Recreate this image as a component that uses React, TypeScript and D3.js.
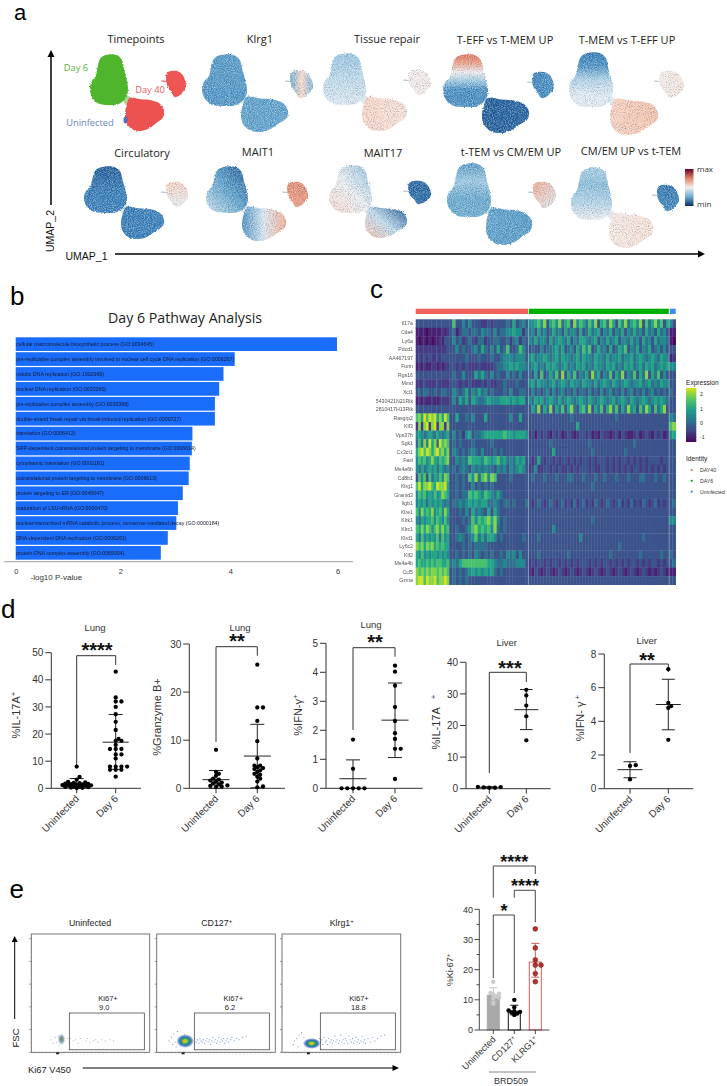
import React from 'react';
import * as d3 from 'd3';

const SANS = '"Liberation Sans", Arial, sans-serif';
const SOFT = '"Open Sans", "Noto Sans", sans-serif';

// ---------- panel a data: expression (-1..1) along each lobe
const umapTitles = ['Timepoints', 'Klrg1', 'Tissue repair', 'T-EFF vs T-MEM UP', 'T-MEM vs T-EFF UP', 'Circulatory', 'MAIT1', 'MAIT17', 't-TEM vs CM/EM UP', 'CM/EM UP vs t-TEM'];
const upperExpr = [[0], [-0.58, -0.6], [-0.38, -0.25, -0.12], [0.55, 0.42, 0.02, -0.35, -0.62, -0.64, -0.62], [-0.72, -0.62, -0.3, -0.12, -0.1], [-0.85, -0.72, -0.7], [-0.85, -0.55, -0.2], [-0.42, -0.05, 0.18], [-0.58, -0.36, -0.52, -0.5], [-0.33, -0.42, -0.3, -0.02]];
const lowerExpr = [[0], [-0.55, -0.55], [0.2, 0.12], [-0.85, -0.82], [0.22, 0.28], [-0.72, -0.7], [-0.62, -0.12, 0.38], [-0.85, -0.25, 0.28], [-0.55, -0.58], [0.08, 0.14]];
const satExpr = [[0], [-0.5, 0.18, -0.45], [0.02, 0.06], [-0.68, -0.62], [0.05, 0.1], [0.22, -0.05], [0.48, 0.42], [-0.82, -0.78], [0.38, -0.1], [-0.75, -0.65]];
// gradient axis of each lobe, as [x1, y1, x2, y2] in the lobe's box
const upperDir = [[0, 0, 0, 1], [0, 0, 0, 1], [0, 0, 0, 1], [0, 0, 0, 1], [0, 0, 0, 1], [0, 0, 0, 1], [1, 0, 0, 1], [1, 0, 0, 1], [0, 0, 0, 1], [0, 0, 0, 1]];
const lowerDir = [[0, 0, 1, 0], [0, 0, 1, 0], [0, 0, 1, 0], [0, 0, 1, 0], [0, 0, 1, 0], [0, 0, 1, 0], [0, 0, 1, 0], [1, 0.1, 0, 1], [0, 0, 1, 0], [0, 0, 1, 0]];
const satDir = [[0, 0, 1, 0], [0, 0, 1, 0], [0, 0, 1, 0], [0, 0, 1, 0], [0, 0, 1, 0], [0, 0, 0, 1], [0, 0, 0, 1], [0, 0, 0, 1], [0, 0, 1, 1], [0, 0, 0, 1]];

// ---------- panel b data
const pathways = [
  'cellular macromolecule biosynthetic process (GO:0034645)',
  'pre-replicative complex assembly involved in nuclear cell cycle DNA replication (GO:0006267)',
  'mitotic DNA replication (GO:1902969)',
  'nuclear DNA replication (GO:0033260)',
  'pre-replicative complex assembly (GO:0036388)',
  'double-strand break repair via break-induced replication (GO:0000727)',
  'translation (GO:0006412)',
  'SRP-dependent cotranslational protein targeting to membrane (GO:0006614)',
  'cytoplasmic translation (GO:0002181)',
  'cotranslational protein targeting to membrane (GO:0006613)',
  'protein targeting to ER (GO:0045047)',
  'maturation of LSU-rRNA (GO:0000470)',
  'nuclear-transcribed mRNA catabolic process, nonsense-mediated decay (GO:0000184)',
  'DNA-dependent DNA replication (GO:0006261)',
  'protein-DNA complex assembly (GO:0065004)',
];
const pathwayP = [6.0, 4.09, 3.88, 3.8, 3.72, 3.72, 3.3, 3.29, 3.25, 3.23, 3.12, 3.03, 3.0, 2.84, 2.71];

// ---------- panel c data: level 0-9 for each cell, groups split by a space
const genes = ['Il17a', 'Ctla4', 'Ly6a', 'Pdcd1', 'AA467197', 'Furin', 'Rgs16', 'Mmd', 'Xcl1', '5430421N21Rik', '2810417H13Rik', 'Rasgrp2', 'Klf3', 'Vps37b', 'Sgk1', 'Cx3cr1', 'Fasl', 'Ms4a6b', 'Cd8b1', 'Klrg1', 'Gramd3', 'Itgb1', 'Klre1', 'Klrk1', 'Klrc1', 'Klrd1', 'Ly6c2', 'Klf2', 'Ms4a4b', 'Ccl5', 'Gzma'];
const heatRows = [
  '3333333333333 3733535333223233334363453 55675836758467385764758367486375846758374685736 53',
  '1111011111212 3413443443544353445565524 45364534645364553634645635463546354645364536453 11',
  '1011010112133 3534234324423344334245243 54645536456546354665456354645635546453645364554 10',
  '2222222222223 3353433453643536347334753 34335344564634536475734645363465735463546345353 33',
  '2323232232333 3333343334333433455545553 56455654564655456465546554645564556456545654655 12',
  '1212112212122 3323232223222234455656554 45645465654564546564546554656454656456465645656 55',
  '3333333333333 3433533364643534335343533 43637346473836473546384635473648354736483647353 33',
  '2223222232222 3332323222323223343334333 56465545645654655465546456546545654556456454655 33',
  '3434433433443 3543463546453433343533443 35343453534534353443534353453435345343534534343 43',
  '1212112112222 3536463654456555666565663 54656456546456545654654565456456546545654565654 33',
  '3333333333333 3333333333333333333333333 36483648364736843674836473684736485637486374683 33',
  '7869798968697 3363343533363333333533633 33333333333333433333333333333433333333333333333 54',
  '2828928928828 3333333333333333333333333 33333333333333336333333333333333333333333333333 78',
  '5654565465456 3534256344566666676656665 23132321323123212332312132212313211231232132312 56',
  '4748596849787 3434333433333433333333333 33333334333333333333433333333333333433333333333 33',
  '6897986897868 3543434543533343433333333 33333333633333333333343333333333433333333333333 33',
  '5767568657678 3354547666576567564546563 32363233232332323233232333232323323232323333233 33',
  '5464565646545 3434543545454435453545653 23522332323223232333232233232323232332323232323 33',
  '3757374657587 3343437584785873333433333 34333433343334433343334334333433343334433343343 33',
  '7968897698896 3343433534343433333333333 33333333333333333333343333333333333333333333333 33',
  '5767565756876 3343447676576546433333333 33333333333333333333333333333333333333333333333 33',
  '5656465656545 3445456565664454344343334 32343234323423242342324323432342324232432342323 34',
  '7586768567586 3334353645436364333333333 33333333333333333333333333333333333333333333333 33',
  '5465667576575 3333434757678685343333333 33333333333333333333343333333333333333333333333 55',
  '7686875786867 3343345786767584343333333 33333333533333333333333333333333333333333333333 33',
  '6475656574756 3345434574646653433333343 33343333333333333533333333333333333333433333333 33',
  '8786878676766 3333434344443333333333333 33333333333333333333333333333343333333333333333 33',
  '6575656656565 3343434354343433435453533 33343333333334333333333333343333333334333333433 43',
  '6766767677667 4546777777776654454445553 23233232332323232333232323323232323323232332323 34',
  '8787878878787 3434345656565643433333333 21321232123212321232123212321232123212321212321 11',
  '8997988978898 3434343333333333333333333 33333333333333333333333333333333333333333333333 33',
];
const identities = ['DAY40', 'DAY6', 'Uninfected'];
const expressionTicks = [2, 1, 0, -1];

// ---------- panel d data
const il17Uninf = [8, 4.2, 3.2, 2.4, 2.2, 2, 1.9, 1.7, 1.6, 1.5, 1.4, 1.3, 1.2, 1.1, 1, 0.9, 0.8, 0.7, 0.5, 0.4, 0.3, 0.2, 0.1];
const il17Day6 = [43, 33.5, 32, 32, 30, 27.3, 24.5, 21.5, 18.2, 17.5, 17.5, 16, 14.5, 14.5, 14.5, 12.5, 12.5, 11, 8, 8, 8, 8, 6.8, 6.8, 6.8, 4.3];
const gzmbUninf = [8, 3.4, 3, 2.6, 2, 1.8, 1.6, 1.4, 1.2, 1, 0.8, 0.6, 0.5, 0.4, 0.3];
const gzmbDay6 = [25.7, 16.8, 16.8, 14, 9.8, 6.2, 4.7, 4.7, 4.4, 4.2, 4, 3.7, 3.4, 3, 2.8, 2.4, 2, 1.4, 0.4, 0.2];
const ifnLungUninf = [1.68, 0.67, 0, 0, 0, 0, 0];
const ifnLungDay6 = [4.23, 4.02, 3.54, 2.8, 2.32, 1.9, 1.7, 1.36, 1.36, 0.32];
const il17LiverUninf = [0.3, 0.5, 0.6, 0.4, 0.3];
const il17LiverDay6 = [31.3, 29.5, 26.3, 22.9, 15.3];
const ifnLiverUninf = [1.4, 1.35, 0.55];
const ifnLiverDay6 = [7.1, 5.1, 4.9, 4.8, 2.9];
// mean, upper, lower for the two groups
const il17Stats = [[1.7, 3.6, 0], [17, 27.2, 7]];
const gzmbStats = [[1.8, 3.7, 0], [6.7, 13.3, 0.1]];
const ifnLungStats = [[0.33, 0.98, 0], [2.35, 3.63, 1.06]];
const il17LiverStats = [[0.45, 0.6, 0.3], [25, 31.4, 18.7]];
const ifnLiverStats = [[1.13, 1.6, 0.65], [5, 6.5, 3.5]];

// ---------- panel e data: events as [Ki67 %, FSC %]
const flowTitles = ['Uninfected', 'CD127', 'Klrg1'];
const flowGates = ['9.0', '6.2', '18.8'];
const flowUninf = [[16, 11], [18, 8], [20, 13], [21, 9], [22, 14], [23, 6], [24, 12], [27, 10], [30, 12], [32, 9], [33, 12], [35, 10], [37, 11], [39, 8], [41, 12], [46, 10], [47, 12], [49, 9], [52, 10], [54, 11], [56, 9], [59, 11], [62, 10], [66, 11], [69, 10]];
const flowCd127 = [[10, 10], [12, 13], [13, 7], [14, 16], [15, 9], [16, 5], [17, 18], [33, 9], [34, 11], [35, 8], [36, 12], [37, 10], [38, 9], [39, 11], [40, 8], [41, 10], [42, 12], [43, 9], [44, 11], [45, 7], [46, 10], [47, 13], [48, 9], [49, 11], [50, 8], [51, 10], [52, 13], [53, 9], [54, 11], [55, 10], [56, 12], [57, 8], [58, 10], [59, 12], [60, 9], [62, 11], [63, 13], [65, 10], [67, 12], [69, 11], [72, 13], [75, 14]];
const flowKlrg1 = [[9, 7], [10, 10], [12, 12], [13, 5], [14, 15], [16, 17], [18, 13], [28, 8], [29, 10], [30, 7], [31, 12], [32, 9], [33, 11], [34, 7], [35, 13], [36, 9], [37, 10], [38, 7], [39, 12], [40, 9], [41, 11], [42, 8], [43, 10], [44, 14], [45, 9], [46, 11], [47, 8], [48, 10], [49, 15], [50, 9], [51, 11], [52, 8], [53, 12], [54, 10], [55, 8], [56, 14], [57, 11], [58, 9], [59, 12], [60, 8], [61, 10], [62, 13], [63, 9], [64, 11], [65, 8], [66, 10], [67, 14], [68, 9], [69, 11], [70, 8], [72, 12], [74, 9], [76, 13], [78, 10], [80, 12], [83, 14], [86, 15]];
const ki67Uninf = [16, 12.3, 12, 11.8, 11.2, 10.8, 10.5, 8.8];
const ki67Cd127 = [10, 7.5, 6.5, 6.2, 6, 5.8, 5.5, 5];
const ki67Klrg1 = [33.5, 27.2, 23.2, 21.5, 21.5, 18.7, 16];
const ki67Stats = [[11.5, 14, 9.5], [6.2, 8.2, 5], [22.5, 28.7, 17.5]];
const ki67Labels = ['Uninfected', 'CD127', 'KLRG1'];

// ---------- shared helpers
const upperShape = [[0.42, 0], [0.7, 0], [0.84, 0.1], [0.9, 0.3], [0.97, 0.52], [1, 0.7], [0.95, 0.85], [0.76, 0.98], [0.5, 1], [0.22, 0.97], [0.05, 0.84], [0, 0.66], [0.05, 0.52], [0.15, 0.42], [0.2, 0.24], [0.27, 0.07]];
const lowerShape = [[0.12, 0], [0.4, 0.04], [0.68, 0.07], [0.9, 0.18], [1, 0.4], [0.97, 0.6], [0.8, 0.76], [0.62, 0.92], [0.42, 1], [0.2, 0.96], [0.04, 0.76], [0, 0.5], [0.04, 0.22]];
const satShape = [[0.15, 0.02], [0.55, 0], [0.8, 0.12], [0.96, 0.38], [1, 0.6], [0.85, 0.8], [0.65, 0.95], [0.42, 1], [0.28, 0.82], [0.08, 0.6], [0, 0.32], [0.03, 0.12]];
const bridgeShape = [[0.1, 0], [0.6, 0.1], [1, 0.55], [0.8, 1], [0.3, 0.95], [0, 0.5]];

function blobPath(shape, box) {
  const x = d3.scaleLinear().domain([0, 1]).range([box[0], box[1]]);
  const y = d3.scaleLinear().domain([0, 1]).range([box[2], box[3]]);
  return d3.line().x((d) => x(d[0])).y((d) => y(d[1])).curve(d3.curveCatmullRomClosed)(shape);
}

const exprColor = (v) => d3.interpolateRdBu(0.5 - v / 2);

// lobes boxes: [x0, x1, y0, y1] for upper, lower, satellite of each UMAP
const umapLayout = [
  { c: [136, 39], up: [90, 128, 55, 105], lo: [125, 164, 98, 131], sat: [166, 186, 71, 97] },
  { c: [260, 39], up: [202, 247, 55, 106], lo: [241, 288, 97, 132], sat: [290, 313, 71, 98] },
  { c: [387, 39], up: [323, 366, 54, 105], lo: [362, 407, 97, 131], sat: [408, 431, 70, 95] },
  { c: [505, 40], up: [443, 488, 55, 107], lo: [482, 529, 98, 133], sat: [532, 554, 72, 98] },
  { c: [627, 40], up: [569, 613, 53, 107], lo: [610, 658, 99, 135], sat: [659, 684, 71, 98] },
  { c: [142, 153], up: [84, 127, 167, 213], lo: [121, 164, 207, 239], sat: [166, 188, 182, 207] },
  { c: [258, 152], up: [206, 248, 167, 213], lo: [242, 286, 207, 241], sat: [287, 308, 182, 207] },
  { c: [383, 153], up: [329, 372, 166, 213], lo: [365, 407, 207, 238], sat: [408, 431, 181, 204] },
  { c: [511, 152], up: [447, 491, 164, 217], lo: [486, 532, 208, 245], sat: [533, 556, 182, 208] },
  { c: [631, 151], up: [571, 612, 168, 220], lo: [609, 653, 213, 248], sat: [657, 679, 185, 211] },
];

function Lobe({ id, shape, box, values, dir, solid }) {
  const d = blobPath(shape, box);
  if (solid) return <path d={d} fill={solid} filter="url(#solidGrain)" />;
  const stop = d3.scaleLinear().domain([0, Math.max(values.length - 1, 1)]).range([0, 1]);
  return (
    <g>
      <defs>
        <linearGradient id={id} x1={dir[0]} y1={dir[1]} x2={dir[2]} y2={dir[3]}>
          {values.map((v, i) => (
            <stop key={i} offset={stop(i)} stopColor={exprColor(v)} />
          ))}
        </linearGradient>
      </defs>
      <path d={d} fill={`url(#${id})`} filter="url(#umapGrain)" />
    </g>
  );
}

function UmapPanel({ i }) {
  const L = umapLayout[i];
  const first = i === 0;
  const bridge = [L.lo[0] - 2, L.lo[0] + 7, L.up[3] - 10, L.lo[2] + 7];
  const tail = [L.sat[0] - 5, L.sat[0] + 1, L.sat[2] + 9.5, L.sat[2] + 11];
  return (
    <g>
      <text x={L.c[0]} y={L.c[1] + 4} fontFamily={SOFT} fontSize={11} fill="#222" textAnchor="middle">{umapTitles[i]}</text>
      <path d={blobPath(bridgeShape, bridge)} fill={first ? '#a8d494' : '#dfe6ec'} filter="url(#solidGrain)" />
      <path d={blobPath(bridgeShape, tail)} fill={first ? '#ee5553' : '#a9bccd'} opacity={0.8} />
      <Lobe id={`up${i}`} shape={upperShape} box={L.up} values={upperExpr[i]} dir={upperDir[i]} solid={first ? '#4eb52c' : null} />
      <Lobe id={`lo${i}`} shape={lowerShape} box={L.lo} values={lowerExpr[i]} dir={lowerDir[i]} solid={first ? '#ec5350' : null} />
      <Lobe id={`sat${i}`} shape={satShape} box={L.sat} values={satExpr[i]} dir={satDir[i]} solid={first ? '#ef5552' : null} />
    </g>
  );
}

function PanelA() {
  const barStops = [0, 0.25, 0.5, 0.75, 1];
  return (
    <g>
      <defs>
        <linearGradient id="exprBar" x1="0" y1="1" x2="0" y2="0">
          {barStops.map((s) => <stop key={s} offset={s} stopColor={exprColor(s * 2 - 1)} />)}
        </linearGradient>
      </defs>
      {umapTitles.map((t, i) => <UmapPanel key={t} i={i} />)}
      <ellipse cx={125.5} cy={120} rx={2} ry={3.5} fill="#4f6fc0" />
      <text x={76} y={71} fontFamily={SOFT} fontSize={9.3} fill="#55b23a" textAnchor="middle">Day 6</text>
      <text x={150} y={93} fontFamily={SOFT} fontSize={9.3} fill="#e0605c" textAnchor="middle">Day 40</text>
      <text x={90} y={126} fontFamily={SOFT} fontSize={9.3} fill="#6a85bd" textAnchor="middle">Uninfected</text>
      <rect x={685} y={169} width={8.5} height={37} fill="url(#exprBar)" />
      <text x={697} y={172} fontFamily={SOFT} fontSize={8} fill="#333">max</text>
      <text x={697} y={207} fontFamily={SOFT} fontSize={8} fill="#333">min</text>
      <line x1={51} y1={205} x2={51} y2={56} stroke="#000" strokeWidth={1.5} />
      <path d="M51,50 L47.5,57 L54.5,57 Z" fill="#000" />
      <text transform="translate(54,231) rotate(-90)" fontFamily={SANS} fontSize={10.5} fill="#111" textAnchor="middle">UMAP_2</text>
      <text x={65.5} y={260} fontFamily={SANS} fontSize={10.5} fill="#111">UMAP_1</text>
      <line x1={115} y1={254} x2={699} y2={254} stroke="#000" strokeWidth={1.5} />
      <path d="M705,254 L698,250.5 L698,257.5 Z" fill="#000" />
    </g>
  );
}

function PanelB() {
  const x = d3.scaleLinear().domain([0, 6]).range([15.7, 337]);
  const y = d3.scaleBand().domain(pathways).range([337, 560]).paddingInner(0.08).paddingOuter(0.02);
  return (
    <g>
      <text x={185} y={323} fontFamily={SOFT} fontSize={14.2} fill="#222" textAnchor="middle">Day 6 Pathway Analysis</text>
      {pathways.map((p, i) => (
        <rect key={p} x={x(0)} y={y(p)} width={x(pathwayP[i]) - x(0)} height={y.bandwidth()} fill="#1a6dfb" />
      ))}
      {pathways.map((p) => (
        <text key={p} x={x(0) + 0.5} y={y(p) + y.bandwidth() / 2 + 1.9} fontFamily={SANS} fontSize={5.25} fill="#141a30" filter="url(#soften)">{p}</text>
      ))}
      <line x1={4} x2={353} y1={561.7} y2={561.7} stroke="#777" strokeWidth={0.7} />
      {x.ticks(3).map((t) => (
        <text key={t} x={t === 0 ? x(t) + 0.7 : t === 2 ? x(t) - 2 : x(t) + 1} y={573.5} fontFamily={SANS} fontSize={7.5} fill="#333" textAnchor="middle">{t}</text>
      ))}
      <text x={30.5} y={579.5} fontFamily={SANS} fontSize={8} fill="#333">-log10 P-value</text>
    </g>
  );
}

function PanelC() {
  const x0 = 415.7;
  const segEdges = [x0, 449.2, 528.3, 669, 675.7];
  const y = d3.scaleBand().domain(genes).range([319.3, 584.7]);
  const level = d3.scaleLinear().domain([0, 3, 9]).range([0.02, 0.25, 0.93]);
  const heat = (lv) => d3.interpolateViridis(level(lv));
  const identityColor = ['#f0605c', '#00b000', '#3f8cf0'];
  const bar = d3.scaleLinear().domain([-1.35, 2.45]).range([442, 388]);
  const stops = [0, 0.2, 0.4, 0.6, 0.8, 1];
  return (
    <g>
      <defs>
        <linearGradient id="viridisBar" x1="0" y1="1" x2="0" y2="0">
          {stops.map((s) => <stop key={s} offset={s} stopColor={d3.interpolateViridis(0.02 + s * 0.91)} />)}
        </linearGradient>
      </defs>
      <rect x={x0} y={308.7} width={528 - x0} height={5.3} fill={identityColor[0]} />
      <rect x={528.8} y={308.7} width={140} height={5.3} fill={identityColor[1]} />
      <rect x={669.8} y={308.7} width={5.9} height={5.3} fill={identityColor[2]} />
      <g filter="url(#heatBlur)">
        {heatRows.map((row, r) =>
          row.split(' ').map((seg, s) => {
            const xs = d3.scaleBand().domain(d3.range(seg.length)).range([segEdges[s], segEdges[s + 1]]);
            return seg.split('').map((c, k) => (
              <rect key={`${r}-${s}-${k}`} x={xs(k)} y={y(genes[r])} width={xs.bandwidth() + 0.3} height={y.bandwidth() + 0.3} fill={heat(+c)} />
            ));
          })
        )}
      </g>
      <line x1={528.4} x2={528.4} y1={319.3} y2={584.7} stroke="#cfd6df" strokeWidth={0.5} />
      <line x1={669.2} x2={669.2} y1={319.3} y2={584.7} stroke="#cfd6df" strokeWidth={0.5} />
      {genes.map((g) => (
        <text key={g} x={413} y={y(g) + y.bandwidth() / 2 + 1.9} fontFamily={SANS} fontSize={5.2} fill="#555" textAnchor="end" filter="url(#soften)">{g}</text>
      ))}
      <text x={686} y={385} fontFamily={SANS} fontSize={6.6} fill="#222">Expression</text>
      <rect x={686} y={388} width={10.3} height={54} fill="url(#viridisBar)" />
      {expressionTicks.map((t) => (
        <text key={t} x={700} y={bar(t) + 1.9} fontFamily={SANS} fontSize={5.2} fill="#333">{t}</text>
      ))}
      <text x={686} y={461} fontFamily={SANS} fontSize={6.6} fill="#222">Identity</text>
      {identities.map((d, i) => (
        <g key={d}>
          <circle cx={691.7} cy={470 + i * 10.85} r={1.1} fill={identityColor[i]} />
          <text x={700} y={471.9 + i * 10.85} fontFamily={SANS} fontSize={5.2} fill="#333">{d}</text>
        </g>
      ))}
    </g>
  );
}

// simple swarm: push each point sideways until it clears the ones placed already
function swarm(values, y, r) {
  const placed = [];
  [...values].sort((a, b) => a - b).forEach((v) => {
    const py = y(v);
    for (let k = 0; k < 40; k++) {
      const off = (k % 2 ? 1 : -1) * Math.ceil(k / 2) * r * 1.3;
      if (placed.every((p) => Math.hypot(p.x - off, p.y - py) >= r * 1.4)) {
        placed.push({ x: off, y: py, v });
        break;
      }
    }
  });
  return placed;
}

function Stars({ x, y, n, size = 20 }) {
  return <text x={x} y={y + size * 0.57} fontFamily={SANS} fontWeight="bold" fontSize={size} fill="#111" textAnchor="middle">{'*'.repeat(n)}</text>;
}

function ScatterPlot({ cfg }) {
  const y = d3.scaleLinear().domain([0, cfg.max]).range([cfg.y0, cfg.yTop]);
  const groups = [cfg.a, cfg.b];
  const xs = cfg.xs;
  const ticks = d3.range(0, cfg.max + 0.001, cfg.step);
  return (
    <g fontFamily={SANS} fill="#333">
      <text x={cfg.titleX} y={cfg.titleY + 3.5} fontSize={9.5} textAnchor="middle">{cfg.tissue}</text>
      <Stars x={cfg.starX} y={cfg.starY} n={cfg.stars} />
      <path d={`M${xs[0]},${cfg.bl} V${cfg.bt} H${xs[1]} V${cfg.br}`} fill="none" stroke="#333" strokeWidth={1} />
      <line x1={cfg.ax} x2={cfg.ax} y1={cfg.y0} y2={cfg.yTop} stroke="#333" strokeWidth={1} />
      <line x1={cfg.ax} x2={cfg.axEnd} y1={cfg.y0} y2={cfg.y0} stroke="#333" strokeWidth={1} />
      {ticks.map((t) => (
        <g key={t}>
          <line x1={cfg.ax - 6} x2={cfg.ax} y1={y(t)} y2={y(t)} stroke="#333" strokeWidth={1} />
          <text x={cfg.ax - 8} y={y(t) + 3.6} fontSize={10} textAnchor="end">{t}</text>
        </g>
      ))}
      {['Uninfected', 'Day 6'].map((l, i) => (
        <g key={l}>
          <line x1={xs[i]} x2={xs[i]} y1={cfg.y0} y2={cfg.y0 + 5} stroke="#333" strokeWidth={1} />
          <text transform={`translate(${xs[i] + 3},${cfg.y0 + 11}) rotate(-45)`} fontSize={10} textAnchor="end">{l}</text>
        </g>
      ))}
      {groups.map((vals, i) => {
        const [m, hi, lo] = cfg.stats[i];
        return (
          <g key={i}>
            <line x1={xs[i]} x2={xs[i]} y1={y(hi)} y2={y(lo)} stroke="#222" strokeWidth={1} />
            <line x1={xs[i] - cfg.cap} x2={xs[i] + cfg.cap} y1={y(hi)} y2={y(hi)} stroke="#222" strokeWidth={1} />
            <line x1={xs[i] - cfg.cap} x2={xs[i] + cfg.cap} y1={y(lo)} y2={y(lo)} stroke="#222" strokeWidth={1} />
            <line x1={xs[i] - cfg.mean} x2={xs[i] + cfg.mean} y1={y(m)} y2={y(m)} stroke="#222" strokeWidth={1} />
            {swarm(vals, y, 2.2).map((p, k) => <circle key={k} cx={xs[i] + p.x} cy={p.y} r={2.15} fill="#000" />)}
          </g>
        );
      })}
      <text transform={`translate(${cfg.labX},${cfg.labY}) rotate(-90)`} fontSize={11} textAnchor="middle">
        {cfg.label}
        {cfg.sup ? <tspan dy={-4} fontSize={8} dx={cfg.supDx || 0}>+</tspan> : null}
      </text>
    </g>
  );
}

const plots = [
  { tissue: 'Lung', a: il17Uninf, b: il17Day6, stats: il17Stats, max: 50, step: 10, y0: 788.3, yTop: 652.7, ax: 51.3, axEnd: 141, xs: [76.7, 115.7], titleX: 95, titleY: 627, starX: 97, starY: 645.5, stars: 4, bt: 655.7, bl: 765, br: 665, label: '%IL-17A', sup: true, labX: 20, labY: 715, cap: 7, mean: 13 },
  { tissue: 'Lung', a: gzmbUninf, b: gzmbDay6, stats: gzmbStats, max: 30, step: 10, y0: 788.3, yTop: 644, ax: 189.3, axEnd: 285, xs: [216, 257.3], titleX: 240, titleY: 627, starX: 237, starY: 637, stars: 2, bt: 646.7, bl: 742, br: 655.7, label: '%Granzyme B+', labX: 161, labY: 717, cap: 7, mean: 13.5 },
  { tissue: 'Lung', a: ifnLungUninf, b: ifnLungDay6, stats: ifnLungStats, max: 5, step: 1, y0: 788.3, yTop: 643.3, ax: 326, axEnd: 422.7, xs: [353, 395], titleX: 371, titleY: 624, starX: 375, starY: 638, stars: 2, bt: 647.7, bl: 730, br: 656.7, label: '%IFN-γ', sup: true, labX: 302, labY: 715, cap: 7, mean: 13.5 },
  { tissue: 'Liver', a: il17LiverUninf, b: il17LiverDay6, stats: il17LiverStats, max: 40, step: 10, y0: 788.7, yTop: 662.3, ax: 466, axEnd: 550.7, xs: [489.3, 526.3], titleX: 506.7, titleY: 642.7, starX: 510, starY: 664, stars: 3, bt: 672.3, bl: 773, br: 682, label: '%IL-17A', sup: true, supDx: 8, labX: 440, labY: 722, cap: 6.3, mean: 12 },
  { tissue: 'Liver', a: ifnLiverUninf, b: ifnLiverDay6, stats: ifnLiverStats, max: 8, step: 2, y0: 788.7, yTop: 654, ax: 604.3, axEnd: 693.3, xs: [630, 668.3], titleX: 646.7, titleY: 640, starX: 647, starY: 656, stars: 2, bt: 664, bl: 753, br: 672, label: '%IFN- γ', sup: true, supDx: 2, labX: 584, labY: 718, cap: 6.5, mean: 12.5 },
];

const flowBoxes = [[31.3, 149.7, 69.3, 144.3], [156.7, 275.3, 194.3, 269.3], [282, 400.7, 320.3, 395.3]];
const flowEvents = [flowUninf, flowCd127, flowKlrg1];
// Ki67 %, FSC %, and radii of the dense core of each population
const flowCores = [[25.5, 11, 4, 6], [24, 9.5, 9, 7], [25, 7.5, 9, 5.5]];
const gateLabelX = [[108, 104.3], [233.3, 230], [359, 358.3]];

function FlowPlot({ i }) {
  const [left, right, gl, gr] = flowBoxes[i];
  const x = d3.scaleLinear().domain([0, 100]).range([left, right]);
  const y = d3.scaleLinear().domain([0, 100]).range([1052.3, 934]);
  const core = flowCores[i];
  const majorY = [0, 19.2, 38.4, 57.6, 76.8, 96];
  const minorX = d3.range(3, 98, 3.2);
  return (
    <g fontFamily={SANS}>
      <text x={[90, 216.7, 341.7][i]} y={926} fontSize={8.8} fill="#222" textAnchor="middle">
        {flowTitles[i]}
        {i > 0 ? <tspan dy={-3} fontSize={6}>+</tspan> : null}
      </text>
      <rect x={left} y={934} width={right - left} height={118.3} fill="#fff" stroke="#666" strokeWidth={0.9} />
      {majorY.map((t) => <line key={t} x1={left - 2} x2={left} y1={y(t)} y2={y(t)} stroke="#555" strokeWidth={0.6} />)}
      {d3.range(4, 96, 3.84).map((t) => <line key={t} x1={left - 1} x2={left} y1={y(t)} y2={y(t)} stroke="#888" strokeWidth={0.3} />)}
      {minorX.map((t) => <line key={t} x1={x(t)} x2={x(t)} y1={1052.3} y2={1053.6} stroke="#777" strokeWidth={0.4} />)}
      <rect x={x(21)} y={1052.3} width={3} height={2} fill="#222" />
      {flowEvents[i].map((e, k) => (
        <rect key={k} x={x(e[0])} y={y(e[1])} width={1} height={1} fill={i === 0 ? '#9ab' : '#5a80c8'} opacity={0.85} />
      ))}
      <ellipse cx={x(core[0])} cy={y(core[1])} rx={core[2]} ry={core[3]} fill={i === 0 ? 'url(#jetSoft)' : 'url(#jet)'} filter="url(#umapEdge)" />
      <rect x={gl} y={1013} width={gr - gl} height={36.8} fill="none" stroke="#333" strokeWidth={0.7} />
      <text x={gateLabelX[i][0]} y={1001} fontSize={7.6} fill="#222" textAnchor="middle">Ki67+</text>
      <text x={gateLabelX[i][1]} y={1010.3} fontSize={7.6} fill="#222" textAnchor="middle">{flowGates[i]}</text>
    </g>
  );
}

function BarPanel() {
  const y = d3.scaleLinear().domain([0, 40]).range([1030, 909.3]);
  const x = d3.scaleBand().domain(ki67Labels).range([482.8, 545.8]).paddingInner(0);
  const cx = (l) => x(l) + x.bandwidth() / 2;
  const vals = [ki67Uninf, ki67Cd127, ki67Klrg1];
  const fills = ['#a9a9a9', '#fff', '#fff'];
  const strokes = ['#a9a9a9', '#111', '#d0605a'];
  const dots = ['#cbcbcb', '#000', '#b5312f'];
  const errs = ['#c4c4c4', '#111', '#d0605a'];
  const c = ki67Labels.map(cx);
  return (
    <g fontFamily={SANS} fill="#333">
      {ki67Labels.map((l, i) => {
        const [m, hi, lo] = ki67Stats[i];
        return (
          <g key={l}>
            <rect x={c[i] - 6} y={y(m)} width={12} height={y(0) - y(m)} fill={fills[i]} stroke={strokes[i]} strokeWidth={1} />
            <line x1={c[i]} x2={c[i]} y1={y(hi)} y2={y(lo)} stroke={errs[i]} strokeWidth={1} />
            <line x1={c[i] - 4} x2={c[i] + 4} y1={y(hi)} y2={y(hi)} stroke={errs[i]} strokeWidth={1} />
            <line x1={c[i] - 4} x2={c[i] + 4} y1={y(lo)} y2={y(lo)} stroke={errs[i]} strokeWidth={1} />
            {swarm(vals[i], y, 2.2).map((p, k) => (
              <circle key={k} cx={c[i] + p.x} cy={p.y} r={i === 2 ? 2.4 : 2.2} fill={dots[i]} stroke={i === 2 ? '#7a1a18' : 'none'} strokeWidth={0.6} />
            ))}
          </g>
        );
      })}
      <line x1={479.3} x2={479.3} y1={1030} y2={909.3} stroke="#333" strokeWidth={0.9} />
      <line x1={479.3} x2={549.3} y1={1030} y2={1030} stroke="#333" strokeWidth={0.9} />
      {d3.range(0, 41, 5).map((t) => (
        <line key={t} x1={t % 10 === 0 ? 474.5 : 476.5} x2={479.3} y1={y(t)} y2={y(t)} stroke="#333" strokeWidth={0.9} />
      ))}
      {y.ticks(4).map((t) => (
        <text key={t} x={473} y={y(t) + 3.3} fontSize={9} textAnchor="end">{t}</text>
      ))}
      {ki67Labels.map((l, i) => (
        <g key={l}>
          <line x1={c[i]} x2={c[i]} y1={1030} y2={1034} stroke="#333" strokeWidth={0.9} />
          <text transform={`translate(${c[i] + 3},${1040}) rotate(-45)`} fontSize={9} textAnchor="end">
            {l}
            {i > 0 ? <tspan dy={-3} fontSize={6}>+</tspan> : null}
          </text>
        </g>
      ))}
      <text transform="translate(453,970) rotate(-90)" fontSize={9} textAnchor="middle">%Ki-67<tspan dy={-3} fontSize={6}>+</tspan></text>
      <line x1={489} x2={536} y1={1072} y2={1072} stroke="#555" strokeWidth={0.7} />
      <text x={511} y={1084} fontSize={9} textAnchor="middle">BRD509</text>
      <path d={`M${c[0]},978 V915 H${c[1]} V993`} fill="none" stroke="#333" strokeWidth={0.9} />
      <path d={`M${c[1]},897.7 V890.3 H${c[2]} V922.3`} fill="none" stroke="#333" strokeWidth={0.9} />
      <path d={`M${c[0]},897.7 V866 H${c[2]} V874`} fill="none" stroke="#333" strokeWidth={0.9} />
      <Stars x={504} y={907} n={1} size={18} />
      <Stars x={525} y={882} n={4} size={18} />
      <Stars x={514.3} y={857.7} n={4} size={18} />
    </g>
  );
}

function PanelLetters() {
  const letters = [['a', 14, 20, 22], ['b', 10, 305, 26], ['c', 370, 298, 26], ['d', 1, 618, 26], ['e', 9.5, 898, 26]];
  return (
    <g fontFamily={SANS} fill="#000">
      {letters.map(([l, x, y, s]) => <text key={l} x={x} y={y} fontSize={s}>{l}</text>)}
    </g>
  );
}

export default function App() {
  return (
    <svg width={727} height={1086} viewBox="0 0 727 1086" style={{ position: 'absolute', left: 0, top: 0, display: 'block', background: '#fff' }}>
      <defs>
        <filter id="umapGrain" x="-10%" y="-10%" width="120%" height="120%" colorInterpolationFilters="sRGB">
          <feTurbulence type="fractalNoise" baseFrequency="0.95" numOctaves="2" seed="4" result="noise" />
          <feDisplacementMap in="SourceGraphic" in2="noise" scale="2.6" xChannelSelector="R" yChannelSelector="G" result="rough" />
          <feColorMatrix in="noise" type="matrix" values="0 0 0 0 1  0 0 0 0 1  0 0 0 0 1  1.1 0 0 0 -0.42" result="lightSpecks" />
          <feComposite in="lightSpecks" in2="rough" operator="in" result="lightOnBlob" />
          <feColorMatrix in="noise" type="matrix" values="0 0 0 0 0.08  0 0 0 0 0.18  0 0 0 0 0.42  0 0.9 0 0 -0.42" result="darkSpecks" />
          <feComposite in="darkSpecks" in2="rough" operator="in" result="darkOnBlob" />
          <feMerge>
            <feMergeNode in="rough" />
            <feMergeNode in="darkOnBlob" />
            <feMergeNode in="lightOnBlob" />
          </feMerge>
        </filter>
        <filter id="solidGrain" x="-10%" y="-10%" width="120%" height="120%" colorInterpolationFilters="sRGB">
          <feTurbulence type="fractalNoise" baseFrequency="0.95" numOctaves="2" seed="9" result="noise" />
          <feDisplacementMap in="SourceGraphic" in2="noise" scale="2.6" xChannelSelector="R" yChannelSelector="G" />
        </filter>
        <filter id="umapEdge" x="-20%" y="-20%" width="140%" height="140%">
          <feTurbulence type="fractalNoise" baseFrequency="1.1" numOctaves="1" seed="2" result="noise" />
          <feDisplacementMap in="SourceGraphic" in2="noise" scale="2" xChannelSelector="R" yChannelSelector="G" />
        </filter>
        <filter id="soften"><feGaussianBlur stdDeviation="0.22" /></filter>
        <filter id="heatBlur" x="0" y="0" width="100%" height="100%"><feGaussianBlur stdDeviation="0.35" /></filter>
        <radialGradient id="jet">
          <stop offset="0" stopColor="#e8a020" />
          <stop offset="0.18" stopColor="#c8d020" />
          <stop offset="0.38" stopColor="#30a860" />
          <stop offset="0.6" stopColor="#2a70b8" />
          <stop offset="0.8" stopColor="#4a70b8" stopOpacity="0.6" />
          <stop offset="1" stopColor="#6d8fc7" stopOpacity="0" />
        </radialGradient>
        <radialGradient id="jetSoft">
          <stop offset="0" stopColor="#7a8a60" />
          <stop offset="0.45" stopColor="#7f9fa4" />
          <stop offset="1" stopColor="#8fb0cf" stopOpacity="0" />
        </radialGradient>
      </defs>
      <PanelLetters />
      <PanelA />
      <PanelB />
      <PanelC />
      {plots.map((p, i) => <ScatterPlot key={i} cfg={p} />)}
      {[0, 1, 2].map((i) => <FlowPlot key={i} i={i} />)}
      <g fontFamily={SANS}>
        <line x1={14.7} x2={14.7} y1={1019} y2={941} stroke="#000" strokeWidth={1} />
        <path d="M14.7,936 L11.7,942 L17.7,942 Z" fill="#000" />
        <text transform="translate(18.5,1038) rotate(-90)" fontSize={9.5} fill="#222" textAnchor="middle">FSC</text>
        <text x={28} y={1073} fontSize={9.3} fill="#222">Ki67 V450</text>
        <line x1={82.7} x2={393} y1={1068} y2={1068} stroke="#000" strokeWidth={1} />
        <path d="M399,1068 L392.5,1065 L392.5,1071 Z" fill="#000" />
      </g>
      <BarPanel />
    </svg>
  );
}
